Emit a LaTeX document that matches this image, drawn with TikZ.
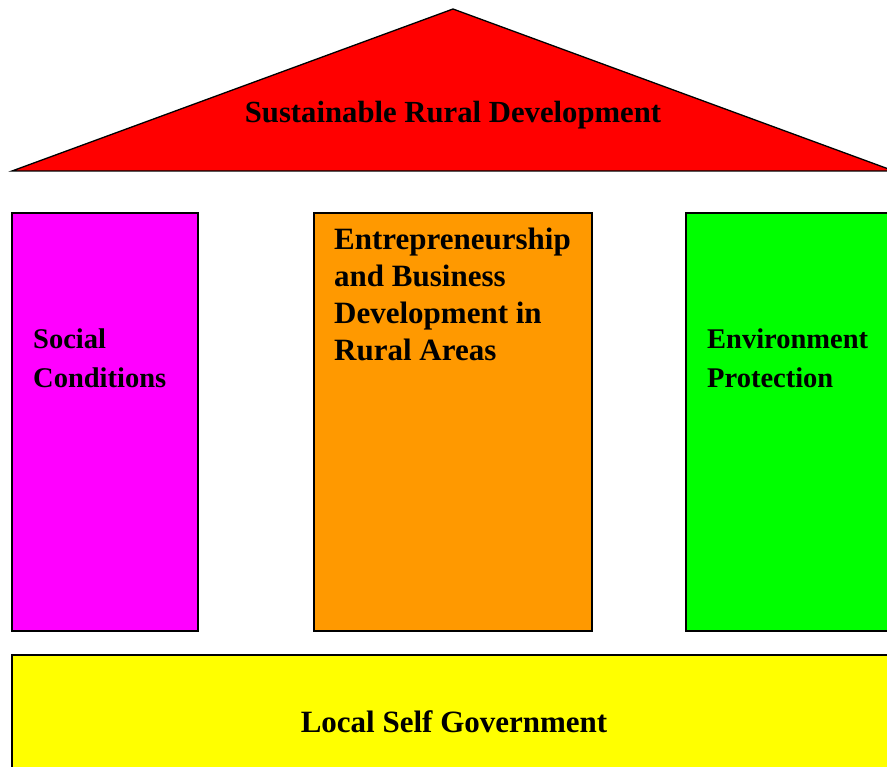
\documentclass[tikz,border=0pt]{standalone}
\usepackage{fontspec}
\setmainfont{Liberation Serif}
\usepackage{tikz}
\usepackage{xcolor}
\definecolor{roofred}{HTML}{FF0000}
\definecolor{socialpink}{HTML}{FF00FF}
\definecolor{bizorange}{HTML}{FF9900}
\definecolor{envgreen}{HTML}{00FF00}
\definecolor{baseyellow}{HTML}{FFFF00}
\tikzset{%
  pillar/.style={draw=black, line width=1.3pt},
  label/.style={font=\fontsize{31}{37}\selectfont\bfseries, text=black, align=left, inner sep=0pt},
  sidelabel/.style={label, font=\fontsize{28.5}{39}\selectfont\bfseries}
}

\begin{document}
\begin{tikzpicture}[x=1pt,y=-1pt]
\useasboundingbox (0,0) rectangle (887,767);
\clip (0,0) rectangle (887,767);
% roof
\filldraw[pillar, fill=roofred] (12,171)--(453,9)--(894,171)--cycle;
\node[label, anchor=center, font=\fontsize{30.7}{37}\selectfont\bfseries] (roof) at (453,115) {Sustainable Rural Development};
% pillars
\filldraw[pillar, fill=socialpink] (12,213) rectangle (198,631);
\filldraw[pillar, fill=bizorange] (314,213) rectangle (592,631);
\filldraw[pillar, fill=envgreen] (686,213) rectangle (900,631);
\node[sidelabel, anchor=west] (social) at (33,358) {Social\\Conditions};
\node[label, anchor=north west] (business) at (334,228) {Entrepreneurship\\and Business\\Development in\\Rural\ Areas};
\node[sidelabel, anchor=west] (environ) at (707,358) {Environment\\Protection};
% base
\filldraw[pillar, fill=baseyellow] (12,655) rectangle (900,800);
\node[label, anchor=center] (base) at (454,722) {Local Self Government};
\end{tikzpicture}
\end{document}
